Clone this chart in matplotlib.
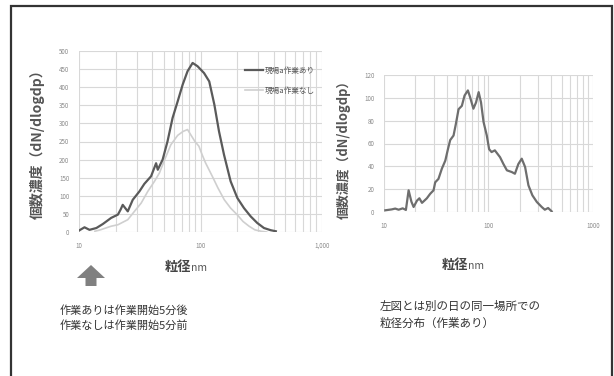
import matplotlib
matplotlib.use("Agg")
import matplotlib.pyplot as plt
from matplotlib.patches import Rectangle, FancyArrow
from matplotlib.ticker import FixedLocator, NullFormatter

plt.rcParams['font.family'] = ['Noto Sans CJK JP', 'DejaVu Sans']

# 現場a 作業あり (nm, dN/dlogdp)
d_work = [10.0, 11.1, 12.2, 13.9, 15.7, 18.4, 20.9, 22.0, 22.9, 25.2, 27.7, 31.4, 34.5,
          39.2, 43.1, 44.5, 48.8, 53.5, 58.9, 64.9, 71.3, 78.2, 86.1, 94.5, 107, 118,
          130, 142, 156, 177, 201, 228, 259, 293, 333, 378, 417]
n_work = [4, 13, 6, 11, 22, 39, 48, 62, 75, 57, 89, 112, 133, 154, 190, 172, 200, 250,
          315, 361, 407, 444, 467, 458, 439, 416, 352, 278, 214, 140, 94, 66, 43, 25,
          11, 5, 2]

# 現場a 作業なし
d_idle = [13.5, 15.0, 18.4, 20.9, 25.2, 28.6, 32.5, 36.8, 41.8, 45.9, 51.3, 57.0,
          64.9, 72.0, 78.2, 83.0, 90.0, 97.0, 103, 110, 125, 139, 157, 177, 200, 224,
          251, 280, 315, 350]
n_idle = [2, 6, 16, 20, 34, 57, 80, 112, 140, 163, 204, 241, 267, 278, 283, 269, 250,
          237, 214, 191, 154, 122, 89, 66, 48, 29, 16, 6, 2, 0]

# 別の日・同一場所 (作業あり)
d_other = [10.3, 11.9, 12.8, 13.8, 15.1, 16.2, 17.2, 18.3, 19.2, 20.7, 21.8, 23.1,
           25.7, 27.7, 29.8, 30.9, 33.2, 35.8, 38.6, 40.9, 43.0, 46.3, 48.7, 51.7,
           55.6, 59.0, 63.5, 66.6, 71.7, 76.0, 80.5, 84.8, 89.6, 96.3, 101.4, 107,
           115, 129, 139, 150, 167, 179, 193, 208, 224, 241, 263, 290, 323, 346, 372,
           402]
n_other = [1.5, 2.3, 3, 2, 3.2, 1.8, 19, 9, 4.4, 10, 12, 8, 12, 16, 19, 26, 29, 38,
           45, 55, 63, 67, 77, 90, 93, 102, 106.5, 100.7, 90.5, 96, 105, 96, 79, 67,
           55, 52.5, 54, 48, 42, 36.5, 35, 33.5, 42, 46.7, 39.4, 23.4, 14.6, 8.8, 4.4,
           2, 3.5, 0.6]

W, H = 614, 376
fig = plt.figure(figsize=(W / 100, H / 100), dpi=100)


def box(x0, y0, x1, y1):
    return [x0 / W, 1 - y1 / H, (x1 - x0) / W, (y1 - y0) / H]


minor = [v * m for v in (10, 100) for m in range(2, 10)]


def style(ax, ymax, ystep, xlabels):
    ax.set_xscale('log')
    ax.set_xlim(10, 1000)
    ax.set_ylim(0, ymax)
    ax.set_yticks(range(0, ymax + 1, ystep))
    ax.set_xticks([10, 100, 1000])
    ax.set_xticklabels(xlabels)
    ax.xaxis.set_minor_locator(FixedLocator(minor))
    ax.xaxis.set_minor_formatter(NullFormatter())
    ax.grid(True, which='both', color='#d8d8d8', lw=0.8)
    ax.set_axisbelow(True)
    for s in ax.spines.values():
        s.set_visible(False)
    ax.tick_params(which='both', length=0, labelsize=4.5, colors='#8a8a8a', pad=7)


# 左: 作業あり / 作業なし
ax1 = fig.add_axes(box(79, 51, 322, 232))
style(ax1, 500, 50, ['10', '100', '1,000'])
ax1.plot(d_idle, n_idle, color='#cfcfcf', lw=1.2, label='現場a作業なし')
ax1.plot(d_work, n_work, color='#5a5a5a', lw=1.6, label='現場a作業あり')
h, l = ax1.get_legend_handles_labels()
ax1.legend(h[::-1], l[::-1], loc='upper right', bbox_to_anchor=(1.0, 0.95),
           frameon=False, fontsize=5.5, handlelength=2.4, labelspacing=1.6,
           handletextpad=0.2, labelcolor='#555555')

# 右: 別の日
ax2 = fig.add_axes(box(384, 75, 593, 212))
style(ax2, 120, 20, ['10', '100', '1000'])
ax2.plot(d_other, n_other, color='#6e6e6e', lw=1.6)

ylab = '個数濃度（dN/dlogdp）'
fig.text(37 / W, 1 - 141 / H, ylab, rotation=90, ha='center', va='center',
         fontsize=10, color='#555555', fontweight='bold')
fig.text(344 / W, 1 - 146 / H, ylab, rotation=90, ha='center', va='center',
         fontsize=9.3, color='#555555', fontweight='bold')

# 横軸ラベル「粒径」+ 小さめの「nm」
for xc, yc in ((191, 267), (468, 265)):
    fig.text(xc / W, 1 - yc / H, '粒径', ha='right', va='center', fontsize=9.5,
             color='#444444', fontweight='bold')
    fig.text(xc / W, 1 - (yc + 1) / H, 'nm', ha='left', va='center', fontsize=7.5,
             color='#555555')

fig.text(60 / W, 1 - 318 / H, '作業ありは作業開始5分後\n作業なしは作業開始5分前',
         ha='left', va='center', fontsize=8, color='#333333', linespacing=1.45)
fig.text(380 / W, 1 - 315 / H, '左図とは別の日の同一場所での\n粒径分布（作業あり）',
         ha='left', va='center', fontsize=8.3, color='#333333', linespacing=1.45)

# 上向き矢印
fig.patches.append(FancyArrow(91 / W, 1 - 286 / H, 0, 8 / H, width=11 / W,
                              head_width=28 / W, head_length=13 / H,
                              length_includes_head=False, transform=fig.transFigure,
                              color='#808080', lw=0))

# 外枠
fig.patches.append(Rectangle((11 / W, -0.05), 601 / W, 1.05 - 6 / H, fill=False,
                             ec='#333333', lw=1.6, transform=fig.transFigure))

fig.savefig('out.png', dpi=100)
